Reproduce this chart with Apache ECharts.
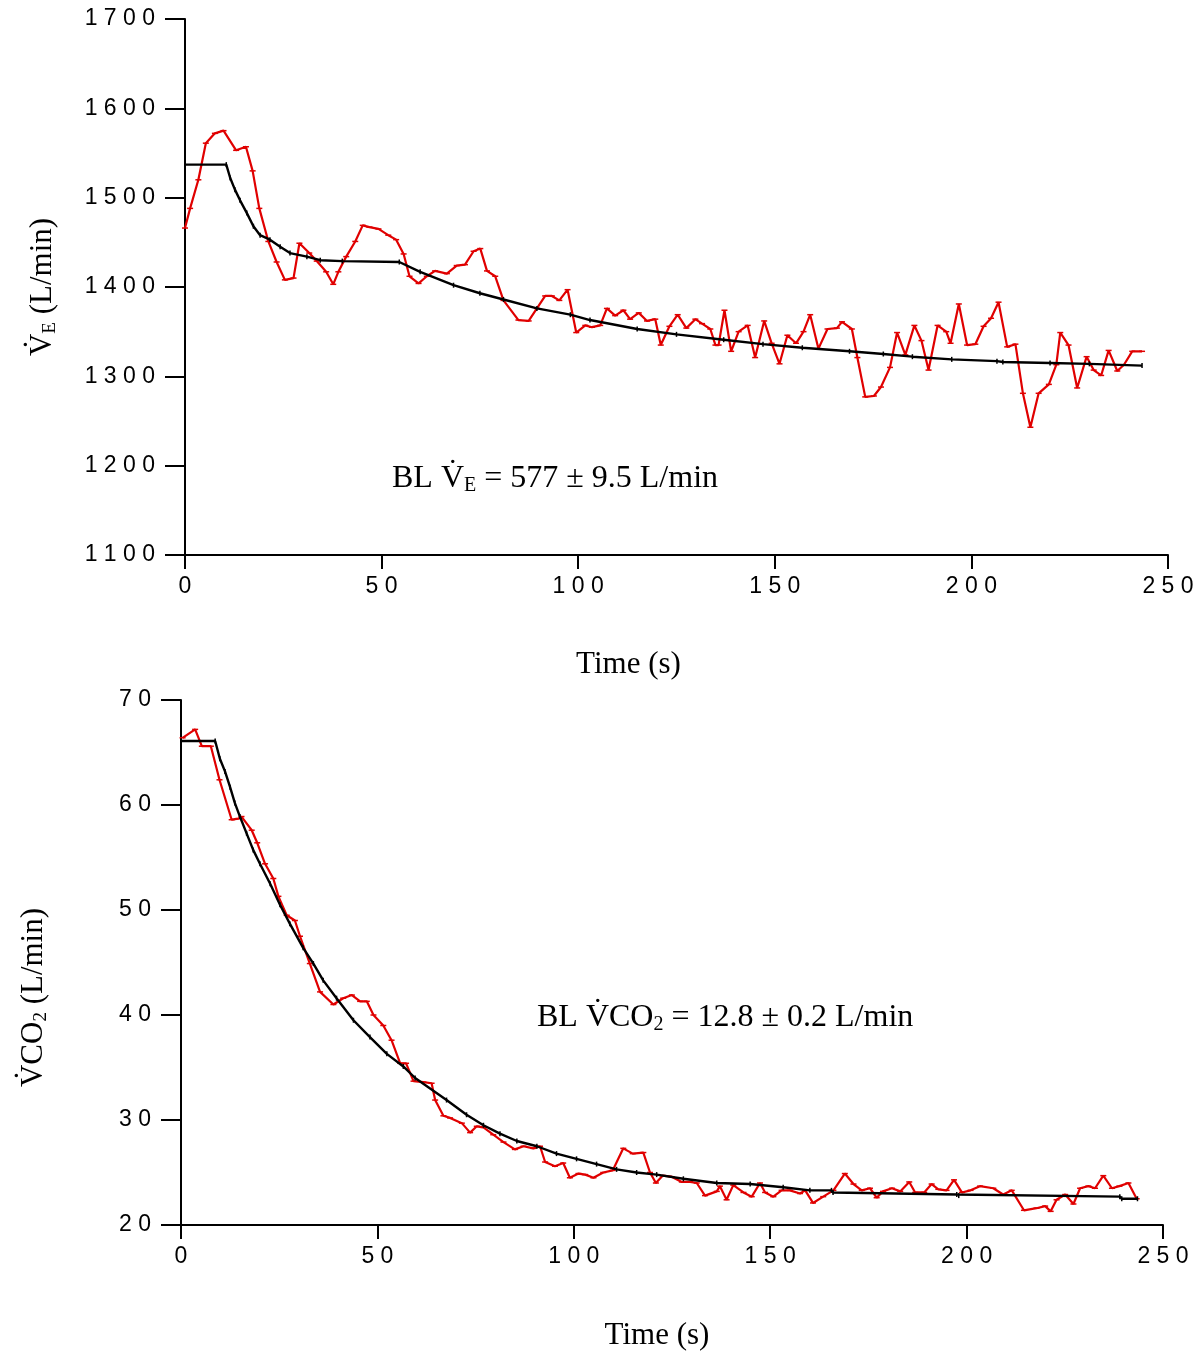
<!DOCTYPE html>
<html>
<head>
<meta charset="utf-8">
<script src="https://cdn.jsdelivr.net/npm/echarts@6/dist/echarts.min.js"></script>
<style>html,body{margin:0;padding:0;background:#fff}#c{width:1198px;height:1353px}</style>
</head>
<body>
<div id="c"></div>
<script>
// ---- Top panel: VE (L/min) ----
const veTime = [0,1.3,3.4,5.3,7.6,9.8,13,15.5,17.2,18.9,21.2,23.3,25.4,27.6,29.1,31.6,33.5,35.9,37.7,39,41,43.3,45.2,46.9,49.2,51.7,53.7,55.6,57.1,59.4,61.5,63.6,66.6,69.1,71.2,73.4,75.1,76.8,78.9,81,84.8,87.4,89.5,91.6,93.3,95.2,97.3,99.5,101.8,103.5,105.6,107.3,109.4,111.5,113.2,115.4,117.5,119.6,121,123.2,125.3,127.5,129.8,131.5,133.6,134.9,135.7,137.2,138.9,140.8,143.1,145,147.3,149.2,151.2,153.2,155.4,157.3,159,161.1,163.4,165.8,167.1,169.6,171,173,175.2,177,179.3,181.1,183.2,185.5,187.3,189.1,191.4,193.6,194.7,196.8,198.9,201,203.1,205,206.9,209.1,211.2,213.1,215,217.1,219.7,221.6,222.6,224.7,226.9,229.3,231.1,233,234.9,237.1,238.8,240.9,243.4];
const veMeasured = [1466,1488,1520,1561,1572,1575,1553,1557,1530,1488,1451,1428,1408,1410,1449,1438,1429,1417,1403,1417,1434,1451,1469,1467,1465,1458,1453,1437,1412,1404,1412,1418,1415,1424,1425,1440,1443,1418,1412,1385,1363,1362,1376,1390,1390,1385,1397,1349,1357,1355,1357,1376,1368,1374,1364,1371,1362,1364,1335,1356,1369,1354,1364,1359,1353,1335,1335,1374,1328,1350,1357,1321,1362,1337,1314,1346,1337,1350,1369,1331,1353,1354,1361,1353,1321,1277,1278,1288,1310,1349,1324,1357,1340,1307,1357,1350,1337,1381,1335,1336,1356,1365,1383,1333,1336,1281,1243,1281,1291,1313,1349,1335,1287,1322,1307,1301,1329,1306,1313,1328,1328];
const veFitTime = [0,10.5,11.5,12.7,14,15.7,17.4,19.1,21.6,24.2,26.7,31,34.4,40,54.5,59.8,68.3,75,81,89.5,98,103,115,125,137,147,157,169,177.6,185,195,206.5,208,220,230,243.4];
const veFit = [1537,1537,1522,1509,1497,1483,1468,1458,1453,1445,1438,1434,1430,1429,1428,1417,1402,1393,1386,1376,1369,1363,1353,1347,1341,1336,1332,1328,1325,1322,1319,1317,1316,1315,1314,1312];

// ---- Bottom panel: VCO2 (L/min) ----
const co2Time = [0.4,3.6,5.3,7.6,9.8,12.9,14.6,15.4,18,19.4,21.4,23.5,24.8,26.9,29,30.3,32.8,35.4,38.8,41.3,43.5,45.6,47.3,49,51.5,53.6,55.8,57.3,59.2,61.7,63.8,64.7,66.8,68.5,71.5,73.6,75.3,77,79.5,82.1,85,87.2,89.7,91.4,92.7,95.2,97.3,99,101.2,102.9,105,107.5,109.9,112.6,115,117.7,119.4,120.9,122.6,124.9,127.5,129.6,131.3,133.4,136.4,137.2,138.9,140.6,143.2,145.3,147.4,148.7,150.8,152.9,155,157.6,158.9,160.9,163.5,166.1,169,171.2,173.3,175.4,177.1,178.7,181,183.1,185.4,186.9,189.2,191.1,192.8,194.9,196.8,198.8,201,203.4,206.8,209.3,211.5,214.6,217.8,220,221.4,222.9,225.1,227.2,228.9,231,232.7,234.8,237,238.9,241.2,243.3];
const co2Measured = [66.4,67.2,65.6,65.6,62.4,58.6,58.7,58.9,57.6,56.4,54.4,53.0,51.3,49.5,49.0,47.5,44.9,42.2,41.0,41.6,41.9,41.3,41.3,40.0,39.0,37.6,35.4,35.4,33.7,33.6,33.5,31.9,30.4,30.2,29.7,28.8,29.4,29.3,28.6,27.9,27.2,27.5,27.3,27.5,26.0,25.6,25.9,24.5,24.9,24.8,24.5,25.0,25.2,27.3,26.8,26.9,25.0,24.0,24.7,24.6,24.1,24.1,24.0,22.8,23.2,23.7,22.4,23.8,23.1,22.7,24.0,23.1,22.7,23.3,23.3,23.0,23.3,22.1,22.7,23.3,24.9,23.9,23.3,23.5,22.6,23.2,23.5,23.2,24.1,23.1,23.1,23.9,23.4,23.3,24.3,23.1,23.3,23.7,23.5,22.9,23.3,21.4,21.6,21.8,21.3,22.4,22.9,22.0,23.5,23.7,23.5,24.7,23.5,23.7,24.0,22.5];
const co2FitTime = [0,8.7,9.9,11.2,12.5,13.7,15,16.7,18.4,20.1,22.7,25.2,27.7,31.1,33.7,36.2,39.6,43.9,48.1,52.4,56.6,59.6,67.6,72.7,77,81.2,85.5,90.6,95.6,100.7,105.8,110.9,116,121.1,127.9,136.4,144.9,153.3,160.1,165.6,166,197.5,198,239,239.5,243.5];
const co2Fit = [66.1,66.1,64.4,63.2,61.7,60.2,58.9,57.3,55.7,54.4,52.5,50.5,48.7,46.4,44.9,43.3,41.6,39.5,37.9,36.3,35.1,34.0,31.9,30.5,29.5,28.7,28.0,27.5,26.8,26.3,25.8,25.3,25.0,24.8,24.4,24.0,23.9,23.6,23.3,23.3,23.1,22.9,22.8,22.7,22.5,22.5];

// ---- Axis ticks ----
const xTicks = [0, 50, 100, 150, 200, 250];
const veTicks = [1100, 1200, 1300, 1400, 1500, 1600, 1700];
const co2Ticks = [20, 30, 40, 50, 60, 70];

const zip = (a, b) => a.map((t, i) => [t, b[i]]);
const spaced = v => String(v).split('').join(' ');
const RED = '#e00000';
const SERIF = 'Liberation Serif';
const SANS = 'Liberation Sans';

function xAxisCfg(gridIndex, gap, shift) {
  return {
    gridIndex, type: 'value',
    min: xTicks[0], max: xTicks[xTicks.length - 1], interval: xTicks[1] - xTicks[0],
    name: 'Time (s)', nameLocation: 'middle', nameGap: gap,
    nameTextStyle: { fontFamily: SERIF, fontSize: 31, color: '#000', padding: [0, shift, 0, 0] },
    axisLine: { onZero: false, lineStyle: { color: '#000', width: 2 } },
    axisTick: { show: true, length: 14, lineStyle: { color: '#000', width: 2 } },
    splitLine: { show: false },
    axisLabel: { fontFamily: SANS, fontSize: 23, color: '#000', margin: 20, formatter: spaced }
  };
}
function yAxisCfg(gridIndex, ticks, name, gap, shift) {
  return {
    gridIndex, type: 'value',
    min: ticks[0], max: ticks[ticks.length - 1], interval: ticks[1] - ticks[0],
    name: name, nameLocation: 'middle', nameRotate: 90, nameGap: gap,
    nameTextStyle: {
      color: '#000', padding: [0, shift, 0, 0],
      rich: {
        v: { fontFamily: SERIF, fontSize: 31, color: '#000', lineHeight: 36 },
        s: { fontFamily: SERIF, fontSize: 19, color: '#000', lineHeight: 36, padding: [14, 0, 0, 0] }
      }
    },
    axisLine: { onZero: false, lineStyle: { color: '#000', width: 2 } },
    axisTick: { show: true, length: 20, lineStyle: { color: '#000', width: 2 } },
    splitLine: { show: false },
    axisLabel: { fontFamily: SANS, fontSize: 23, color: '#000', margin: 30, formatter: spaced }
  };
}
function measured(xi, data) {
  return {
    type: 'line', xAxisIndex: xi, yAxisIndex: xi, data,
    symbol: 'rect', symbolSize: [6, 1.5], showSymbol: true,
    itemStyle: { color: RED }, lineStyle: { color: RED, width: 2.2 }, z: 2
  };
}
function fit(xi, data) {
  return {
    type: 'line', xAxisIndex: xi, yAxisIndex: xi, data,
    symbol: 'rect', symbolSize: [1.5, 5], showSymbol: true,
    itemStyle: { color: '#000' }, lineStyle: { color: '#000', width: 2.4 }, z: 3
  };
}

const annoRich = {
  n: { fontFamily: SERIF, fontSize: 32, fill: '#000', lineHeight: 38 },
  s: { fontFamily: SERIF, fontSize: 20, fill: '#000', lineHeight: 38, padding: [14, 0, 0, 0] }
};

const chart = echarts.init(document.getElementById('c'));
chart.setOption({
  animation: false,
  backgroundColor: '#fff',
  grid: [
    { left: 185, right: 30, top: 19, height: 536 },
    { left: 181, right: 35, top: 700, height: 525 }
  ],
  xAxis: [xAxisCfg(0, 94, 96), xAxisCfg(1, 95, 30)],
  yAxis: [
    yAxisCfg(0, veTicks, '{v|V\u0307}{s|E}{v| (L/min)}', 124, 0),
    yAxisCfg(1, co2Ticks, '{v|V\u0307CO}{s|2}{v| (L/min)}', 129, 70)
  ],
  series: [
    measured(0, zip(veTime, veMeasured)),
    fit(0, zip(veFitTime, veFit)),
    measured(1, zip(co2Time, co2Measured)),
    fit(1, zip(co2FitTime, co2Fit))
  ],
  graphic: [
    { type: 'text', left: 392, top: 462, z: 10,
      style: { text: '{n|BL V\u0307}{s|E}{n| = 577 \u00b1 9.5 L/min}', rich: annoRich } },
    { type: 'text', left: 537, top: 1001, z: 10,
      style: { text: '{n|BL V\u0307CO}{s|2}{n| = 12.8 \u00b1 0.2 L/min}', rich: annoRich } }
  ]
});
</script>
</body>
</html>
